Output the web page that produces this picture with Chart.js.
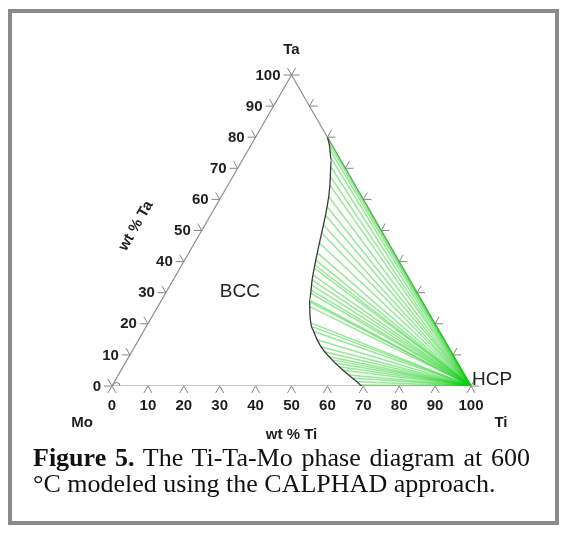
<!DOCTYPE html>
<html><head><meta charset="utf-8">
<script src="https://cdn.jsdelivr.net/npm/chart.js@4.4.0/dist/chart.umd.min.js"></script>
<style>
html,body{margin:0;padding:0;background:#fff;}
#wrap{position:relative;width:567px;height:534px;overflow:hidden;background:#fff;}
#frame{position:absolute;left:8px;top:9px;width:551px;height:516px;border:4px solid #8a8a8a;box-sizing:border-box;}
#c{position:absolute;left:0;top:0;}
#cap{position:absolute;left:33px;top:445px;width:497px;font-family:"Liberation Serif","Times New Roman",serif;font-size:26px;line-height:26px;color:#111;}
#cap .l1{text-align:justify;text-align-last:justify;white-space:nowrap;}
#cap .l2{text-align:left;white-space:nowrap;}
</style>
</head><body>
<div id="wrap">
<div id="frame"></div>
<canvas id="c" width="567" height="534"></canvas>
<div id="cap"><div class="l1"><b>Figure 5.</b> The Ti-Ta-Mo phase diagram at 600</div><div class="l2">°C modeled using the CALPHAD approach.</div></div>
</div>
<script>
// ---- data (wt %) ----
const tickValues = [0,10,20,30,40,50,60,70,80,90,100];
const tickLabels = ["0","10","20","30","40","50","60","70","80","90","100"];
const cornerNames = ["Mo","Ti","Ta"];
// BCC phase boundary (wt% Ti, wt% Ta)
const boundaryTi = [20, 21.8, 24.7, 28.4, 31.45, 33.8, 36.1, 38.7, 41.2, 43.75, 47.0, 51.3, 57.1, 62.7, 66.7, 69.5];
const boundaryTa = [80, 77.5, 72.7, 64.6, 56.6, 49.2, 41.8, 34.1, 27.65, 22.8, 18.0, 13.2, 8.4, 4.5, 1.9, 0];
// tie-line ends on the BCC side
const tieTi = [20, 21.4, 22.7, 24.4, 25.7, 27.2, 28.4, 29.8, 31.0, 31.9, 33.0, 33.8, 34.8, 35.8, 36.5, 37.0, 37.4, 38.1, 38.7, 39.3, 39.9, 40.3, 41.2, 41.5, 42.3, 45.2, 46.2, 47.4, 49.9, 51.9, 53.5, 55.8, 57.1, 58.4, 60.2, 61.8, 64.2, 65.7, 67.3, 69.1];
const tieTa = [80, 78, 76, 73.3, 70.5, 67.3, 64.6, 61, 57.7, 55, 51.8, 49.2, 46, 42.8, 40.5, 38.9, 37.9, 35.7, 34.1, 32.5, 30.9, 29.9, 27.7, 27.1, 25.5, 20.3, 19.1, 17.5, 14.8, 12.6, 11.0, 9.4, 8.4, 7.4, 6.2, 5.1, 3.5, 2.6, 1.4, 0.3];
// HCP end of tie lines
const hcpTi = 100;
const hcpTa = 0;
// phase labels position (wt% Ti, wt% Ta)
const bccLabel = {name:"BCC", ti:20.5, ta:30.2};

const H = Math.sqrt(3)/2;
function tern(ti, ta){ return {x: ti + ta/2, y: ta*H}; }

const datasets = [];
datasets.push({data:[tern(0,0),tern(100,0),tern(0,100),tern(0,0)], showLine:true, borderColor:'#8f8f8f', borderWidth:1.2, pointRadius:0, order:3});
for(let i=0;i<tieTi.length;i++){
  datasets.push({data:[tern(tieTi[i],tieTa[i]), tern(hcpTi,hcpTa)], showLine:true, borderColor:'rgba(20,205,20,0.45)', borderWidth:1.5, pointRadius:0, order:2});
}
datasets.push({data: boundaryTi.map((t,i)=>tern(t,boundaryTa[i])), showLine:true, borderColor:'#3a3a3a', borderWidth:1.3, pointRadius:0, tension:0.4, cubicInterpolationMode:'monotone', order:1});

const ternPlugin = {
  id:'tern',
  afterDatasetsDraw(chart){
    const ctx = chart.ctx, sx = chart.scales.x, sy = chart.scales.y;
    const P = (ti,ta)=>{const q=tern(ti,ta); return {x:sx.getPixelForValue(q.x), y:sy.getPixelForValue(q.y)};};
    const L = 8, c60 = 0.5*L, s60 = H*L;
    ctx.save();
    ctx.strokeStyle = '#858585'; ctx.lineWidth = 1;
    const seg=(a,dx,dy)=>{ctx.beginPath();ctx.moveTo(a.x,a.y);ctx.lineTo(a.x+dx,a.y+dy);ctx.stroke();};
    tickValues.forEach(v=>{
      const b = P(v,0); seg(b,-c60,s60); seg(b,c60,s60);
      const l = P(0,v); seg(l,-L,0); seg(l,-c60,-s60);
      const r = P(100-v,v); seg(r,L,0); seg(r,c60,-s60);
    });
    const m = P(0,0);
    ctx.beginPath(); ctx.arc(m.x+4.5, m.y, 3.5, Math.PI, 0); ctx.stroke();
    ctx.fillStyle = '#1e1e1e';
    ctx.font = 'bold 15px "Liberation Sans", Arial, sans-serif';
    ctx.textBaseline = 'middle';
    tickValues.forEach((v,i)=>{
      const b = P(v,0);
      ctx.textAlign='center'; ctx.fillText(tickLabels[i], b.x, b.y+20);
      const l = P(0,v);
      ctx.textAlign='right'; ctx.fillText(tickLabels[i], l.x-11, l.y+0.5);
    });
    const mo = P(0,0), ti = P(100,0), ta = P(0,100);
    ctx.textAlign='center';
    ctx.fillText(cornerNames[0], mo.x-30, mo.y+37);
    ctx.fillText(cornerNames[1], ti.x+30, ti.y+37);
    ctx.fillText(cornerNames[2], ta.x, ta.y-25);
    ctx.fillText('wt % Ti', (mo.x+ti.x)/2, mo.y+49);
    ctx.save();
    ctx.translate(136, 226); ctx.rotate(-Math.PI/3);
    ctx.fillText('wt % Ta', 0, 0);
    ctx.restore();
    ctx.font = '19px "Liberation Sans", Arial, sans-serif';
    ctx.fillStyle = '#222';
    const bcc = P(bccLabel.ti, bccLabel.ta);
    ctx.fillText(bccLabel.name, bcc.x, bcc.y);
    ctx.textAlign='left'; ctx.textBaseline='alphabetic';
    ctx.fillText('HCP', ti.x+1, ti.y-1);
    ctx.restore();
  }
};

new Chart(document.getElementById('c'), {
  type:'scatter',
  data:{datasets},
  options:{
    responsive:false, animation:false, events:[],
    layout:{padding:{left:112, right:96, top:75, bottom:148}},
    plugins:{legend:{display:false}, tooltip:{enabled:false}, title:{display:false}},
    scales:{
      x:{type:'linear', min:0, max:100, display:false},
      y:{type:'linear', min:0, max:100*H, display:false}
    }
  },
  plugins:[ternPlugin]
});
</script>
</body></html>
